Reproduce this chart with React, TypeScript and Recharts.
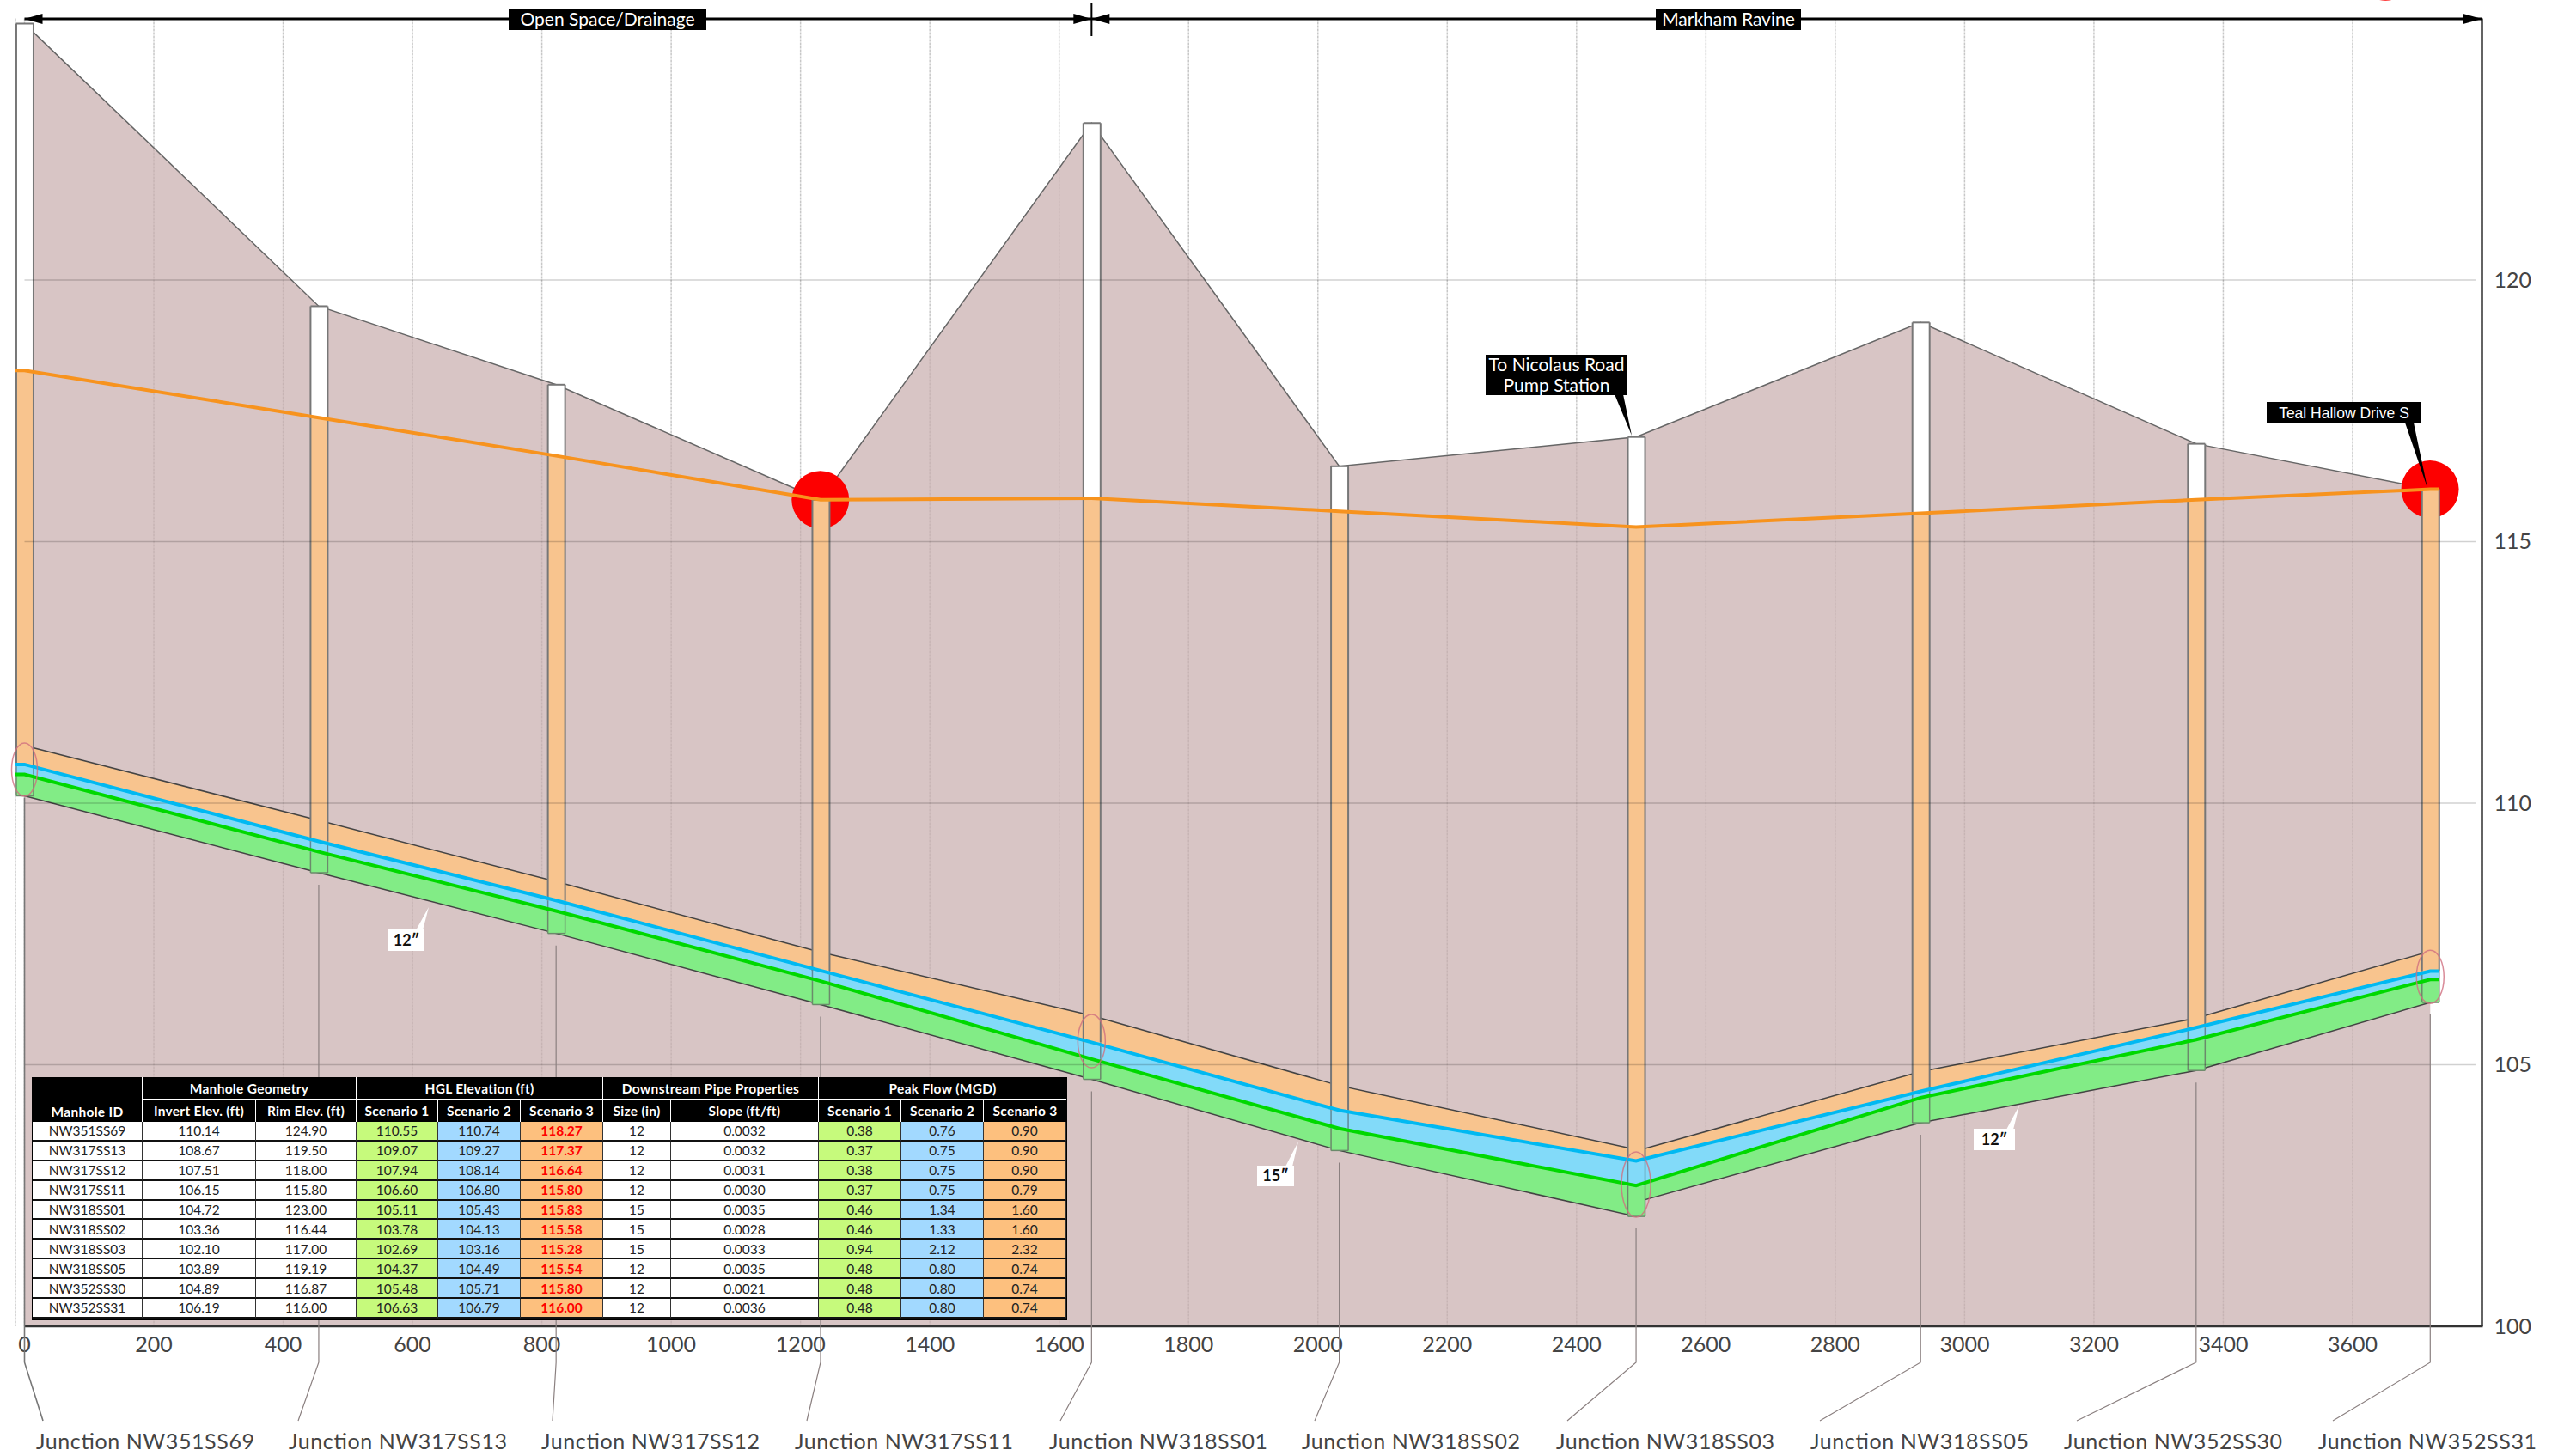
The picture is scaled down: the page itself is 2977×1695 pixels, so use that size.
import React from "react";
import { ComposedChart, Area, Line, Bar, XAxis, YAxis, CartesianGrid, ReferenceDot, ReferenceLine } from "recharts";

// ---------- data ----------
const manholeIds = ["NW351SS69","NW317SS13","NW317SS12","NW317SS11","NW318SS01","NW318SS02","NW318SS03","NW318SS05","NW352SS30","NW352SS31"];
const stations = [0,455,822,1231,1650,2033,2492,2932,3358,3720];
const inverts = [110.14,108.67,107.51,106.15,104.72,103.36,102.10,103.89,104.89,106.19];
const rims = [124.90,119.50,118.00,115.80,123.00,116.44,117.00,119.19,116.87,116.00];
const hgl1 = [110.55,109.07,107.94,106.60,105.11,103.78,102.69,104.37,105.48,106.63];
const hgl2 = [110.74,109.27,108.14,106.80,105.43,104.13,103.16,104.49,105.71,106.79];
const hgl3 = [118.27,117.37,116.64,115.80,115.83,115.58,115.28,115.54,115.80,116.00];
const sizes = [12,12,12,12,15,15,15,12,12,12];
const slopes = ["0.0032","0.0032","0.0031","0.0030","0.0035","0.0028","0.0033","0.0035","0.0021","0.0036"];
const flow1 = ["0.38","0.37","0.38","0.37","0.46","0.46","0.94","0.48","0.48","0.48"];
const flow2 = ["0.76","0.75","0.75","0.75","1.34","1.33","2.12","0.80","0.80","0.80"];
const flow3 = ["0.90","0.90","0.90","0.79","1.60","1.60","2.32","0.74","0.74","0.74"];
const crowns = [111.1,109.67,108.5,107.15,105.94,104.6,103.38,104.87,105.89,107.17];
const xTicks = [0,200,400,600,800,1000,1200,1400,1600,1800,2000,2200,2400,2600,2800,3000,3200,3400,3600];
const yTicks = [100,105,110,115,120];
const yGrid = [105,110,115,120];
const surchargedIds = ["NW317SS11","NW352SS31"];
const cutOffMarker = { x: 3651, y: 125.89 };
const rings = [
  { x: 0, y: 110.64, rx: 15, ry: 31 },
  { x: 1650, y: 105.45, rx: 16, ry: 31 },
  { x: 2492, y: 102.71, rx: 17, ry: 38 },
  { x: 3720, y: 106.68, rx: 16, ry: 31 },
];

// ---------- tables for the library ----------
const stationRows = stations.map((station, i) => ({
  station,
  base: inverts[i],
  seg1: +(hgl1[i] - inverts[i]).toFixed(2),
  seg2: +(hgl2[i] - hgl1[i]).toFixed(2),
  seg3: +(hgl3[i] - hgl2[i]).toFixed(2),
  seg4: +(rims[i] - hgl3[i]).toFixed(2),
  surcharge: surchargedIds.includes(manholeIds[i]) ? hgl3[i] : undefined,
}));
const groundRows = stations.map((station, i) => ({ station, rim: rims[i] }));
const pipeRows: any[] = [];
stations.forEach((station, i) => {
  pipeRows.push({ station, crownBand: [inverts[i], crowns[i]], blueBand: [inverts[i], hgl2[i]], greenBand: [inverts[i], hgl1[i]], invert: inverts[i], crown: crowns[i] });
  if (station === 2492) {
    // downstream pipe leaves this junction higher than the junction floor
    pipeRows.push({ station: 2506, crownBand: [102.42, 103.4], blueBand: [102.42, 103.18], greenBand: [102.42, 102.72], invert: 102.42, crown: 103.4 });
  }
});
const START_STUB = -14;
const END_STUB = 3734;
const hglRows = [
  { station: START_STUB, s1: hgl1[0], s2: hgl2[0], s3: hgl3[0] },
  ...stations.map((station, i) => ({ station, s1: hgl1[i], s2: hgl2[i], s3: hgl3[i] })),
  { station: END_STUB, s1: hgl1[9], s2: hgl2[9], s3: hgl3[9] },
];

// ---------- layout ----------
const W = 2977, H = 1695;
const X0 = 28.5, X1 = 2888.5, Y_TOP = 21.5, Y_BOT = 1544;
const X_MAX = 3800, Y_MIN = 100, Y_MAX = 125;
const MH_W = 20;
const kx = (X1 - X0) / X_MAX;
const sx = (v: number) => X0 + v * kx;
const sy = (v: number) => Y_BOT - ((v - Y_MIN) * (Y_BOT - Y_TOP)) / (Y_MAX - Y_MIN);
const FONT = "Lato, 'Open Sans', sans-serif";
const labelLeft = [42,336,630,925,1221,1515,1811,2107,2402,2698];
const leaderEnd = [50,347,643,939,1234,1530,1824,2118,2417,2715];
const colWidths = [128,132,117,95,96,96,79,172,96,96,96];
const C_GREEN = "#c6fa7c", C_BLUE = "#a2d9ff", C_ORANGE = "#fdc07e";

const seg = (fill: string, side: string, sw: number, cap?: "top" | "bottom") => (p: any) => {
  const { y, height } = p;
  const x = p.x + p.width / 2 - MH_W / 2;
  const width = MH_W;
  return (
    <g>
      <rect x={x} y={y} width={width} height={height} fill={fill} />
      <line x1={x} x2={x} y1={y} y2={y + height} stroke={side} strokeWidth={sw} />
      <line x1={x + width} x2={x + width} y1={y} y2={y + height} stroke={side} strokeWidth={sw} />
      {cap === "top" && <line x1={x} x2={x + width} y1={y} y2={y} stroke={side} strokeWidth={sw} />}
      {cap === "bottom" && <line x1={x} x2={x + width} y1={y + height} y2={y + height} stroke={side} strokeWidth={sw} />}
    </g>
  );
};
const redMarker = (p: any) => <circle cx={p.x + p.width / 2} cy={p.y} r={33.5} fill="#fd0000" stroke="none" />;

const Callout = ({ x, y, w, h, lines, tip, size, family }: any) => (
  <g>
    <polygon points={tip} fill="#000" />
    <rect x={x} y={y} width={w} height={h} fill="#000" />
    {lines.map((t: string, i: number) => (
      <text key={t} x={x + w / 2} y={y + (h / lines.length) * (i + 0.5)} dy="0.36em" textAnchor="middle" fill="#fff" fontSize={size} fontFamily={family || FONT}>{t}</text>
    ))}
  </g>
);

const SizeTag = ({ x, y, w, h, tip, text }: any) => (
  <g>
    <polygon points={tip} fill="#fff" />
    <rect x={x} y={y} width={w} height={h} fill="#fff" />
    <text x={x + w / 2} y={y + h / 2} dy="0.36em" textAnchor="middle" fontSize={18} fontWeight={700} fontFamily={FONT} fill="#111">{text}</text>
  </g>
);

const Overlay = () => {
  const y0 = 22;
  const mid = sx(stations[4]);
  return (
    <svg width={W} height={H} style={{ position: "absolute", left: 0, top: 0, pointerEvents: "none" }}>
      <line x1={sx(0)} x2={X1 + 1} y1={Y_BOT} y2={Y_BOT} stroke="#333" strokeWidth={2.5} />
      {/* leaders */}
      {stations.map((s, i) => (
        <polyline key={s} fill="none" stroke={i === 0 ? "#777" : "#8b8080"} strokeWidth={i === 0 ? 1.6 : 1.2}
          points={`${sx(s)},${sy(inverts[i]) + (i === 0 ? 2 : 14)} ${sx(s)},1586 ${leaderEnd[i]},1654`} />
      ))}
      {manholeIds.map((id, i) => (
        <text key={id} x={labelLeft[i]} y={1687} fontSize={25} fontFamily={FONT} fill="#444" textLength={254} lengthAdjust="spacing">{"Junction " + id}</text>
      ))}
      {/* span arrows */}
      <line x1={sx(0)} x2={X1} y1={y0} y2={y0} stroke="#000" strokeWidth={3} />
      <line x1={mid} x2={mid} y1={3} y2={42} stroke="#000" strokeWidth={2} />
      <polygon points={`${sx(0)},${y0} ${sx(0) + 21},${y0 - 6} ${sx(0) + 21},${y0 + 6}`} fill="#000" />
      <polygon points={`${mid},${y0} ${mid - 21},${y0 - 6} ${mid - 21},${y0 + 6}`} fill="#000" />
      <polygon points={`${mid},${y0} ${mid + 21},${y0 - 6} ${mid + 21},${y0 + 6}`} fill="#000" />
      <polygon points={`${X1},${y0} ${X1 - 22},${y0 - 6} ${X1 - 22},${y0 + 6}`} fill="#000" />
      <Callout x={592} y={10} w={230} h={25} lines={["Open Space/Drainage"]} tip="" size={21} />
      <Callout x={1927} y={10} w={169} h={25} lines={["Markham Ravine"]} tip="" size={21} />
      <Callout x={1729} y={413} w={165} h={47} lines={["To Nicolaus Road", "Pump Station"]} tip="1879,459 1889,459 1899,507" size={21} />
      <Callout x={2638} y={468} w={180} h={25} lines={["Teal Hallow Drive S"]} tip="2799,492 2809,492 2825,568" size={17.5} family="'Liberation Sans', sans-serif" />
      <SizeTag x={452} y={1082} w={42} h={25} tip="484,1083 492,1083 499,1056" text={"12\u2033"} />
      <SizeTag x={1463} y={1357} w={43} h={24} tip="1496,1358 1504,1358 1511,1329" text={"15\u2033"} />
      <SizeTag x={2297} y={1314} w={48} h={25} tip="2335,1315 2343,1315 2350,1287" text={"12\u2033"} />
    </svg>
  );
};

const thBase: React.CSSProperties = { background: "#000", color: "#fff", fontWeight: 700, fontSize: 15.5, letterSpacing: 0.3, padding: 0, textAlign: "center", borderRight: "1.5px solid #fff", boxSizing: "border-box", whiteSpace: "nowrap" };
const tdBase: React.CSSProperties = { fontSize: 15.5, padding: 0, textAlign: "center", color: "#222", height: 22.9, borderBottom: "2px solid #111", borderRight: "1px solid #333", boxSizing: "border-box", background: "#fff" };

const DataTable = () => (
  <table style={{ position: "absolute", left: 37, top: 1254, width: 1203, tableLayout: "fixed", borderCollapse: "separate", borderSpacing: 0, fontFamily: FONT, border: "0", borderLeft: "1.5px solid #000", borderBottom: "2px solid #000", borderRight: "1px solid #000" }}>
    <colgroup>{colWidths.map((w, i) => <col key={i} style={{ width: w }} />)}</colgroup>
    <thead>
      <tr style={{ height: 26 }}>
        <th rowSpan={2} style={{ ...thBase, verticalAlign: "bottom", paddingBottom: 3 }}>Manhole ID</th>
        <th colSpan={2} style={{ ...thBase, borderBottom: "1.5px solid #fff" }}>Manhole Geometry</th>
        <th colSpan={3} style={{ ...thBase, borderBottom: "1.5px solid #fff" }}>HGL Elevation (ft)</th>
        <th colSpan={2} style={{ ...thBase, borderBottom: "1.5px solid #fff" }}>Downstream Pipe Properties</th>
        <th colSpan={3} style={{ ...thBase, borderBottom: "1.5px solid #fff", borderRight: 0 }}>Peak Flow (MGD)</th>
      </tr>
      <tr style={{ height: 26 }}>
        {["Invert Elev. (ft)","Rim Elev. (ft)","Scenario 1","Scenario 2","Scenario 3","Size (in)","Slope (ft/ft)","Scenario 1","Scenario 2","Scenario 3"].map((t, i) => (
          <th key={i} style={{ ...thBase, ...(i === 9 ? { borderRight: 0 } : {}) }}>{t}</th>
        ))}
      </tr>
    </thead>
    <tbody>
      {manholeIds.map((id, i) => (
        <tr key={id}>
          <td style={tdBase}>{id}</td>
          <td style={tdBase}>{inverts[i].toFixed(2)}</td>
          <td style={tdBase}>{rims[i].toFixed(2)}</td>
          <td style={{ ...tdBase, background: C_GREEN }}>{hgl1[i].toFixed(2)}</td>
          <td style={{ ...tdBase, background: C_BLUE }}>{hgl2[i].toFixed(2)}</td>
          <td style={{ ...tdBase, background: C_ORANGE, color: "#f00", fontWeight: 700 }}>{hgl3[i].toFixed(2)}</td>
          <td style={tdBase}>{sizes[i]}</td>
          <td style={tdBase}>{slopes[i]}</td>
          <td style={{ ...tdBase, background: C_GREEN }}>{flow1[i]}</td>
          <td style={{ ...tdBase, background: C_BLUE }}>{flow2[i]}</td>
          <td style={{ ...tdBase, background: C_ORANGE }}>{flow3[i]}</td>
        </tr>
      ))}
    </tbody>
  </table>
);

const axisTick = { fontSize: 25, fontFamily: FONT, fill: "#444" };
const lineCommon = { type: "linear" as const, dot: false, activeDot: false, isAnimationActive: false, legendType: "none" as const };

export default function App() {
  return (
    <div style={{ position: "absolute", left: 0, top: 0, width: W, height: H, overflow: "hidden", background: "#fff" }}>
      <ComposedChart
        width={W}
        height={H}
        data={stationRows}
        margin={{ top: Y_TOP, right: 0, bottom: 0, left: X0 + START_STUB * kx }}
      >
        <XAxis dataKey="station" type="number" domain={[START_STUB, X_MAX]} ticks={xTicks} interval={0} height={H - Y_BOT} axisLine={false} tickLine={false} tickMargin={6} tick={axisTick} />
        <XAxis xAxisId="markers" dataKey="station" type="number" domain={[START_STUB, X_MAX]} ticks={xTicks} hide />
        <YAxis type="number" orientation="right" domain={[Y_MIN, Y_MAX]} allowDataOverflow ticks={yTicks} interval={0} width={W - X1} axisLine={{ stroke: "#333", strokeWidth: 2.5 }} tickLine={false} tickMargin={8} tick={axisTick} />

        <Area {...lineCommon} data={groundRows} dataKey="rim" baseValue={Y_MIN} fill="#c7adad" fillOpacity={0.7} stroke="#666" strokeWidth={1.5} />

        <CartesianGrid horizontal={false} stroke="rgba(0,0,0,0.22)" strokeDasharray="3 1" strokeWidth={1.5} />
        {yGrid.map((v) => (
          <ReferenceLine key={v} segment={[{ x: 0, y: v }, { x: 3790, y: v }]} stroke="rgba(0,0,0,0.18)" strokeWidth={1.5} />
        ))}

        <ReferenceDot x={cutOffMarker.x} y={cutOffMarker.y} r={33.5} fill="#fd0000" stroke="none" ifOverflow="visible" />

        <Area {...lineCommon} data={pipeRows} dataKey="crownBand" fill="#f8c48e" fillOpacity={1} stroke="none" />
        <Area {...lineCommon} data={pipeRows} dataKey="blueBand" fill="#82daf9" fillOpacity={1} stroke="none" />
        <Area {...lineCommon} data={pipeRows} dataKey="greenBand" fill="#82ec86" fillOpacity={1} stroke="none" />
        <Area {...lineCommon} data={pipeRows} dataKey="crown" baseValue={Y_MIN} fill="none" stroke="#444" strokeWidth={1.5} />
        <Area {...lineCommon} data={pipeRows} dataKey="invert" baseValue={Y_MIN} fill="none" stroke="#444" strokeWidth={1.5} />

        <Bar xAxisId="markers" dataKey="surcharge" barSize={20} isAnimationActive={false} legendType="none" shape={redMarker} />

        <Bar dataKey="base" stackId="mh" barSize={20} fill="none" isAnimationActive={false} legendType="none" />
        <Bar dataKey="seg1" stackId="mh" barSize={20} isAnimationActive={false} legendType="none" shape={seg("#82ec86", "#6b8a6b", 1.5, "bottom")} />
        <Bar dataKey="seg2" stackId="mh" barSize={20} isAnimationActive={false} legendType="none" shape={seg("#82daf9", "#5f8a9a", 1.5)} />
        <Bar dataKey="seg3" stackId="mh" barSize={20} isAnimationActive={false} legendType="none" shape={seg("#f8c48e", "#777", 2)} />
        <Bar dataKey="seg4" stackId="mh" barSize={20} isAnimationActive={false} legendType="none" shape={seg("#ffffff", "#777", 2, "top")} />

        <Line {...lineCommon} data={hglRows} dataKey="s1" stroke="#00d800" strokeWidth={4} />
        <Line {...lineCommon} data={hglRows} dataKey="s2" stroke="#00b9f2" strokeWidth={4} />
        <Line {...lineCommon} data={hglRows} dataKey="s3" stroke="#f7931e" strokeWidth={4} />

        {rings.map((r) => (
          <ReferenceDot key={r.x} x={r.x} y={r.y} r={r.rx} ifOverflow="visible"
            shape={(p: any) => <ellipse cx={p.cx} cy={p.cy} rx={r.rx} ry={r.ry} fill="none" stroke="#cf6f80" strokeWidth={1.5} strokeOpacity={0.8} />} />
        ))}
      </ComposedChart>
      <Overlay />
      <DataTable />
    </div>
  );
}
